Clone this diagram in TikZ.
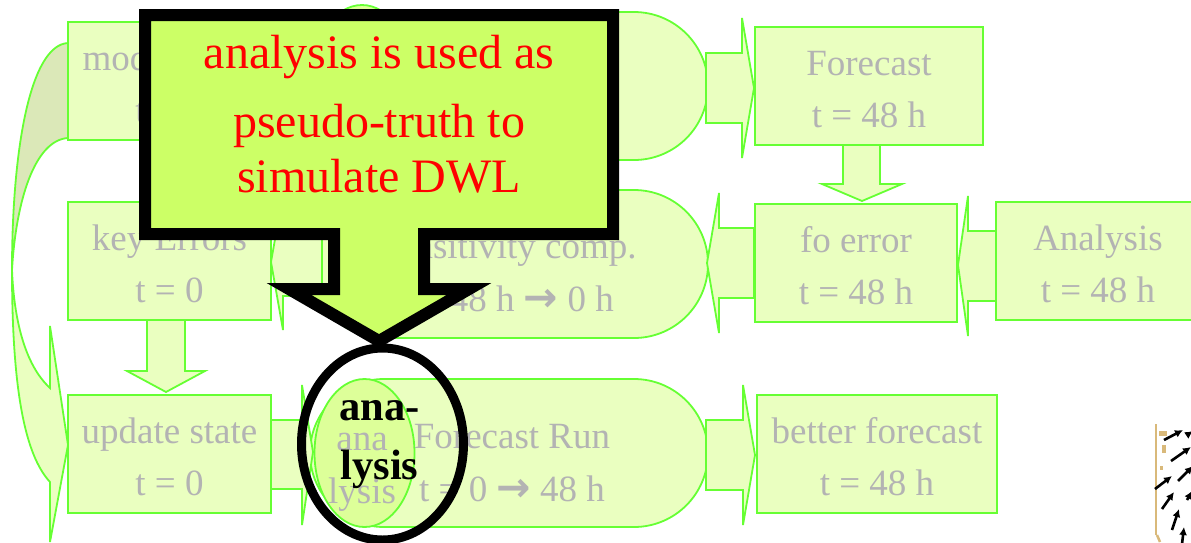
\documentclass[tikz,border=0pt]{standalone}
\usepackage{fontspec}
\setmainfont{Liberation Serif}
\newfontfamily\arrowfont{DejaVu Sans}
\usetikzlibrary{shapes.geometric,arrows.meta}
\definecolor{pale}{HTML}{EAFFC0}
\definecolor{paledark}{HTML}{DBE8B8}
\definecolor{line}{HTML}{66FF33}
\definecolor{midfill}{HTML}{DDFF99}
\definecolor{graytext}{HTML}{B3B3B3}
\definecolor{callout}{HTML}{CCFF66}
\definecolor{tan}{HTML}{D9B97A}
\newcommand{\rarr}{{\arrowfont\bfseries\fontsize{41}{41}\selectfont →}}
\newcommand{\twolines}[2]{\rule{0pt}{36pt}#1\\#2\rule[-5pt]{0pt}{5pt}}
\tikzset{
  x=1pt,y=-1pt,
  boxnode/.style={draw=line,fill=pale,line width=2pt,rectangle,inner sep=0pt,minimum height=118pt,text=graytext,
    font=\fontsize{37}{52}\selectfont,align=center},
  procnode/.style={draw=line,fill=pale,line width=1.8pt,rectangle,rounded corners=74pt,inner sep=0pt,minimum height=148pt,minimum width=398pt},
  blockarrow/.style={draw=line,fill=pale,line width=1.8pt,line join=miter},
  ovalnode/.style={ellipse,draw=line,fill=midfill,line width=1.8pt,inner sep=0pt,minimum width=100pt,minimum height=148pt},
  labeltext/.style={text=graytext,font=\fontsize{37}{53}\selectfont,align=center,inner sep=0pt},
  windarrow/.style={-{Latex[length=8pt,width=8pt]},line width=2.6pt,black},
}
\begin{document}
\begin{tikzpicture}
\useasboundingbox (0,0) rectangle (1191,542);
\clip (0,0) rectangle (1191,542);
% curved feedback arrow
\draw[blockarrow,fill=paledark] (68,43) .. controls (30,45) and (12,150) .. (12,270) .. controls (16,200) and (35,140) .. (68,138) -- cycle;
\draw[blockarrow] (12,270) .. controls (12,390) and (25,455) .. (50,482) -- (50,542) -- (68,445) -- (50,326) -- (50,388) .. controls (25,365) and (14,320) .. (12,270) -- cycle;
% process shapes
\node[procnode] (top) at (509,86) {};
\node[procnode] (mid) at (509,264) {};
\node[procnode] (run) at (509,453) {};
% block arrows
\draw[blockarrow] (271,262) -- (283,194) -- (283,228) -- (322,228) -- (322,296) -- (283,296) -- (283,330) -- cycle;
\draw[blockarrow] (268,420) -- (302,420) -- (302,385) -- (313,452) -- (302,525) -- (302,489) -- (268,489) -- cycle;
\draw[blockarrow] (706,53) -- (742,53) -- (742,18) -- (754,88) -- (742,158) -- (742,123) -- (706,123) -- cycle;
\draw[blockarrow] (706,420) -- (743,420) -- (743,385) -- (755,455) -- (743,525) -- (743,490) -- (706,490) -- cycle;
\draw[blockarrow] (843,145) -- (880,145) -- (880,184) -- (902,184) -- (862,201) -- (822,184) -- (843,184) -- cycle;
\draw[blockarrow] (754,228) -- (719,228) -- (719,193) -- (707,263) -- (719,333) -- (719,298) -- (754,298) -- cycle;
\draw[blockarrow] (997,231) -- (968,231) -- (968,196) -- (958,265) -- (968,336) -- (968,301) -- (997,301) -- cycle;
\draw[blockarrow] (147,320) -- (185,320) -- (185,371) -- (205,371) -- (166,392) -- (127,371) -- (147,371) -- cycle;
% boxes
\node[boxnode,minimum width=203pt] (model) at (169.5,81) {\twolines{model error}{t = 0}};
\node[boxnode,minimum width=203pt] (key) at (169.5,260.5) {\twolines{key Errors}{t = 0}};
\node[boxnode,minimum width=203pt] (update) at (169.5,454) {\twolines{update state}{t = 0}};
\node[boxnode,minimum width=228pt] (forecast) at (869,86) {\twolines{Forecast}{t = 48 h}};
\node[boxnode,minimum width=202pt] (fo) at (856,263) {\twolines{fo error}{t = 48 h}};
\node[boxnode,minimum width=204pt] (analysis) at (1098,260.5) {\twolines{Analysis}{t = 48 h}};
\node[boxnode,minimum width=240pt] (better) at (877,454) {\twolines{better forecast}{t = 48 h}};
% ellipses
\node[ovalnode] (ovaltop) at (362,79) {};
\node[ovalnode] (ovalrun) at (364.5,453) {};
% process labels
\node[labeltext] (midlabel) at (507,273) {Sensitivity comp.\\t = 48 h \rarr{} 0 h};
\node[labeltext] (runlabel) at (512,463) {Forecast Run\\t = 0 \rarr{} 48 h};
\node[labeltext] (analabel) at (362,472) {ana\\lysis};
% wind plot
\draw[tan,line width=1.5pt] (1156,424) -- (1156,535);
\draw[tan,line width=2.5pt] (1157,535) -- (1160,542);
\fill[tan] (1159,431) rectangle (1167,436);
\fill[tan] (1162,445) rectangle (1166,453);
\fill[tan] (1160,466) rectangle (1163,470);
\draw[windarrow] (1164,440) -- (1183,430);
\draw[windarrow] (1187,435) -- (1193,431);
\draw[windarrow] (1171,461) -- (1191,447);
\draw[windarrow] (1155,489) -- (1172,476);
\draw[windarrow] (1178,481) -- (1193,466);
\draw[windarrow] (1162,509) -- (1174,492);
\draw[windarrow] (1187,500) -- (1192,491);
\draw[windarrow] (1172,530) -- (1179,509);
\draw[windarrow] (1182,544) -- (1184,527);
% callout
\draw[black,fill=callout,line width=12pt,line join=miter,miter limit=10]
  (145,15) -- (613,15) -- (613,234) -- (424,234) -- (424,289) -- (469,289) -- (379,341) -- (289,289) -- (334,289) -- (334,234) -- (145,234) -- cycle;
\node[text=red,font=\fontsize{48}{55}\selectfont,align=center,inner sep=0pt] (calloutlabel) at (379,114) {analysis is used as\\[14pt]pseudo-truth to\\simulate DWL};
% highlight ellipse
\node[ellipse,draw=black,line width=9pt,inner sep=0pt,minimum width=162pt,minimum height=192pt] (focus) at (382.5,444) {};
\node[text=black,font=\bfseries\fontsize{42.5}{59}\selectfont,align=center,inner sep=0pt] (focuslabel) at (379.5,444.5) {ana-\\lysis};
\end{tikzpicture}
\end{document}
